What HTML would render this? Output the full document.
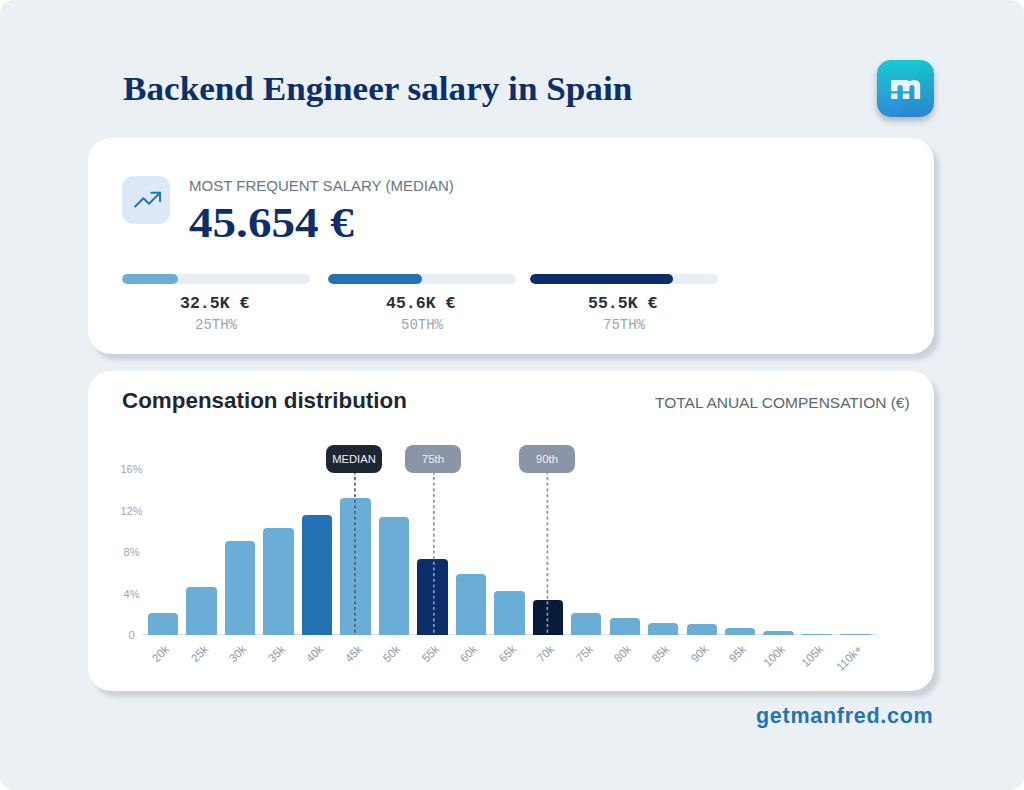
<!DOCTYPE html>
<html><head><meta charset="utf-8">
<style>
html,body{margin:0;padding:0;background:#ffffff;}
body{width:1024px;height:790px;position:relative;overflow:hidden;font-family:"Liberation Sans",sans-serif;}
.page{position:absolute;left:0;top:0;width:1024px;height:790px;background:#ebf0f5;border-radius:14px;}
.abs{position:absolute;white-space:nowrap;}
.title{left:122.5px;top:68.6px;font-family:"Liberation Serif",serif;font-weight:bold;font-size:34px;transform-origin:0 0;transform:scaleX(1.034);line-height:40px;color:#0c2f6b;}
.logo{left:877px;top:60px;width:57px;height:57px;border-radius:14px;background:linear-gradient(180deg,#17cad2 0%,#2e8bd9 100%);box-shadow:0 4px 6px rgba(60,70,90,0.35);overflow:hidden;}
.logo .sh{position:absolute;left:0;top:0;width:100%;height:100%;background:linear-gradient(115deg,rgba(255,255,255,0) 55%,rgba(0,0,0,0.04) 55%);}
.card{left:88px;width:846px;background:#fff;border-radius:23px;box-shadow:5px 6px 4px rgba(118,124,136,0.27);}
.icon{left:122px;top:176px;width:48px;height:48px;border-radius:11px;background:#dde9f6;}
.lbl{left:189px;top:176px;font-size:15px;line-height:20px;color:#6b7684;}
.big{left:188px;top:198px;font-family:"Liberation Serif",serif;font-weight:bold;font-size:42px;transform-origin:0 0;transform:scaleX(1.122);margin-left:1px;line-height:50px;color:#0c2f6b;}
.track{top:274px;width:188px;height:10px;border-radius:5px;background:#e9eef4;overflow:hidden;}
.fill{position:absolute;left:0;top:0;height:10px;border-radius:5px;}
.pv{top:294px;margin-left:-1.3px;width:188px;text-align:center;font-family:"Liberation Mono",monospace;font-weight:bold;font-size:16.5px;line-height:20px;color:#28303c;}
.pl{top:316px;width:188px;text-align:center;font-family:"Liberation Mono",monospace;font-size:14px;line-height:18px;color:#9aa6b6;}
.ctitle{left:122px;top:388px;font-weight:bold;font-size:22.4px;line-height:26px;color:#1f2733;}
.csub{left:655px;top:394px;font-size:15.5px;line-height:18px;color:#5d6570;}
.yl{left:111.5px;width:40px;text-align:center;font-size:11px;line-height:14px;color:#9ba6b8;}
.axis{left:142px;top:634px;width:735px;height:1px;background:#dfe5ec;}
.bar{position:absolute;width:30.4px;}
.xl{position:absolute;width:80px;text-align:right;font-size:11.5px;line-height:16px;color:#8f9aad;transform-origin:100% 50%;transform:rotate(-45deg);}
.pill{top:445px;width:56px;height:28px;border-radius:8px;text-align:center;font-size:11.5px;line-height:29px;color:#eef1f4;}
.dash{top:473px;width:0;border-left:1.5px dashed #4b5563;}
.site{left:756px;top:703px;font-weight:bold;font-size:21.5px;letter-spacing:0.72px;line-height:26px;color:#2472b8;}
</style></head><body>
<div class="page"></div>
<div class="abs title">Backend Engineer salary in Spain</div>
<div class="abs logo"><div class="sh"></div>
<svg width="57" height="57" viewBox="0 0 57 57" style="position:absolute;left:0;top:0">
<path fill="#e9f0f8" d="M14.1 20.1 H29 Q31.5 20.1 32.4 21.6 Q34 20.1 37 20.1 Q43.2 20.1 43.2 26 V39.1 H37.4 V27.6 Q37.4 25.1 34.9 25.1 Q32.4 25.1 32.4 27.6 V31.3 H25.8 V27.6 Q25.8 25.1 23.15 25.1 Q20.5 25.1 20.5 27.6 V31.3 H14.1 Z M14.1 33.4 H20.5 V39.1 H14.1 Z M25.8 33.4 H32.4 V39.1 H25.8 Z"/>
</svg></div>
<div class="abs card" style="top:138px;height:216px;"></div>
<div class="abs icon"><svg width="33.2" height="33.2" viewBox="0 0 24 24" style="position:absolute;left:8.6px;top:7.1px" fill="none" stroke="#2a72b6" stroke-width="1.45" stroke-linecap="round" stroke-linejoin="round"><polyline points="3 17 9 11 13 15 21 7"/><polyline points="14.8 7 21 7 21 13.2"/></svg></div>
<div class="abs lbl">MOST FREQUENT SALARY (MEDIAN)</div>
<div class="abs big">45.654 €</div>
<div class="abs track" style="left:122px"><div class="fill" style="width:56px;background:#6aadd6"></div></div>
<div class="abs track" style="left:328px"><div class="fill" style="width:94px;background:#2272b4"></div></div>
<div class="abs track" style="left:530px"><div class="fill" style="width:143px;background:#0b2d69"></div></div>
<div class="abs pv" style="left:122px">32.5K €</div>
<div class="abs pv" style="left:328px">45.6K €</div>
<div class="abs pv" style="left:530px">55.5K €</div>
<div class="abs pl" style="left:122px">25TH%</div>
<div class="abs pl" style="left:328px">50TH%</div>
<div class="abs pl" style="left:530px">75TH%</div>
<div class="abs card" style="top:371px;height:320px;"></div>
<div class="abs ctitle">Compensation distribution</div>
<div class="abs csub">TOTAL ANUAL COMPENSATION (€)</div>
<div class="abs yl" style="top:462px">16%</div>
<div class="abs yl" style="top:504px">12%</div>
<div class="abs yl" style="top:545px">8%</div>
<div class="abs yl" style="top:587px">4%</div>
<div class="abs yl" style="top:628px">0</div>
<div class="abs axis"></div>
<div class="bar" style="left:148.00px;top:612.60px;height:22.20px;background:#6aadd6;border-radius:4.0px 4.0px 0 0"></div>
<div class="bar" style="left:186.46px;top:586.60px;height:48.20px;background:#6aadd6;border-radius:4.0px 4.0px 0 0"></div>
<div class="bar" style="left:224.93px;top:541.00px;height:93.80px;background:#6aadd6;border-radius:4.0px 4.0px 0 0"></div>
<div class="bar" style="left:263.39px;top:528.30px;height:106.50px;background:#6aadd6;border-radius:4.0px 4.0px 0 0"></div>
<div class="bar" style="left:301.86px;top:514.70px;height:120.10px;background:#2272b4;border-radius:4.0px 4.0px 0 0"></div>
<div class="bar" style="left:340.32px;top:497.90px;height:136.90px;background:#6aadd6;border-radius:4.0px 4.0px 0 0"></div>
<div class="bar" style="left:378.78px;top:517.30px;height:117.50px;background:#6aadd6;border-radius:4.0px 4.0px 0 0"></div>
<div class="bar" style="left:417.25px;top:559.10px;height:75.70px;background:#0b2d69;border-radius:4.0px 4.0px 0 0"></div>
<div class="bar" style="left:455.71px;top:574.10px;height:60.70px;background:#6aadd6;border-radius:4.0px 4.0px 0 0"></div>
<div class="bar" style="left:494.18px;top:590.90px;height:43.90px;background:#6aadd6;border-radius:4.0px 4.0px 0 0"></div>
<div class="bar" style="left:532.64px;top:600.30px;height:34.50px;background:#061a3a;border-radius:4.0px 4.0px 0 0"></div>
<div class="bar" style="left:571.10px;top:613.10px;height:21.70px;background:#6aadd6;border-radius:4.0px 4.0px 0 0"></div>
<div class="bar" style="left:609.57px;top:618.10px;height:16.70px;background:#6aadd6;border-radius:4.0px 4.0px 0 0"></div>
<div class="bar" style="left:648.03px;top:622.50px;height:12.30px;background:#6aadd6;border-radius:4.0px 4.0px 0 0"></div>
<div class="bar" style="left:686.50px;top:624.00px;height:10.80px;background:#6aadd6;border-radius:4.0px 4.0px 0 0"></div>
<div class="bar" style="left:724.96px;top:628.30px;height:6.50px;background:#6aadd6;border-radius:4.0px 4.0px 0 0"></div>
<div class="bar" style="left:763.42px;top:630.90px;height:3.90px;background:#6aadd6;border-radius:3.9px 3.9px 0 0"></div>
<div class="bar" style="left:801.89px;top:633.70px;height:1.10px;background:#6aadd6;border-radius:1.1px 1.1px 0 0"></div>
<div class="bar" style="left:840.35px;top:633.70px;height:1.10px;background:#6aadd6;border-radius:1.1px 1.1px 0 0"></div>
<div class="xl" style="left:87.45px;top:638.90px">20k</div>
<div class="xl" style="left:125.91px;top:638.90px">25k</div>
<div class="xl" style="left:164.38px;top:638.90px">30k</div>
<div class="xl" style="left:202.84px;top:638.90px">35k</div>
<div class="xl" style="left:241.31px;top:638.90px">40k</div>
<div class="xl" style="left:279.77px;top:638.90px">45k</div>
<div class="xl" style="left:318.23px;top:638.90px">50k</div>
<div class="xl" style="left:356.70px;top:638.90px">55k</div>
<div class="xl" style="left:395.16px;top:638.90px">60k</div>
<div class="xl" style="left:433.63px;top:638.90px">65k</div>
<div class="xl" style="left:472.09px;top:638.90px">70k</div>
<div class="xl" style="left:510.55px;top:638.90px">75k</div>
<div class="xl" style="left:549.02px;top:638.90px">80k</div>
<div class="xl" style="left:587.48px;top:638.90px">85k</div>
<div class="xl" style="left:625.95px;top:638.90px">90k</div>
<div class="xl" style="left:664.41px;top:638.90px">95k</div>
<div class="xl" style="left:702.87px;top:638.90px">100k</div>
<div class="xl" style="left:741.34px;top:638.90px">105k</div>
<div class="xl" style="left:779.80px;top:638.90px">110k+</div>
<svg class="abs" style="left:0;top:0" width="1024" height="790">
<line x1="354.9" y1="471.4" x2="354.9" y2="634.8" stroke="#5a606b" stroke-width="1.7" stroke-dasharray="3.1 2.55"/>
<line x1="433.8" y1="471.4" x2="433.8" y2="634.8" stroke="#8b95a7" stroke-width="1.7" stroke-dasharray="3.1 2.55"/>
<line x1="547.4" y1="471.4" x2="547.4" y2="634.8" stroke="#8b95a7" stroke-width="1.7" stroke-dasharray="3.1 2.55"/>
</svg>
<div class="abs pill" style="left:326px;background:#1e2633;font-size:11.2px">MEDIAN</div>
<div class="abs pill" style="left:405px;background:#8b95a7">75th</div>
<div class="abs pill" style="left:519px;background:#8b95a7">90th</div>
<div class="abs site">getmanfred.com</div>
</body></html>
